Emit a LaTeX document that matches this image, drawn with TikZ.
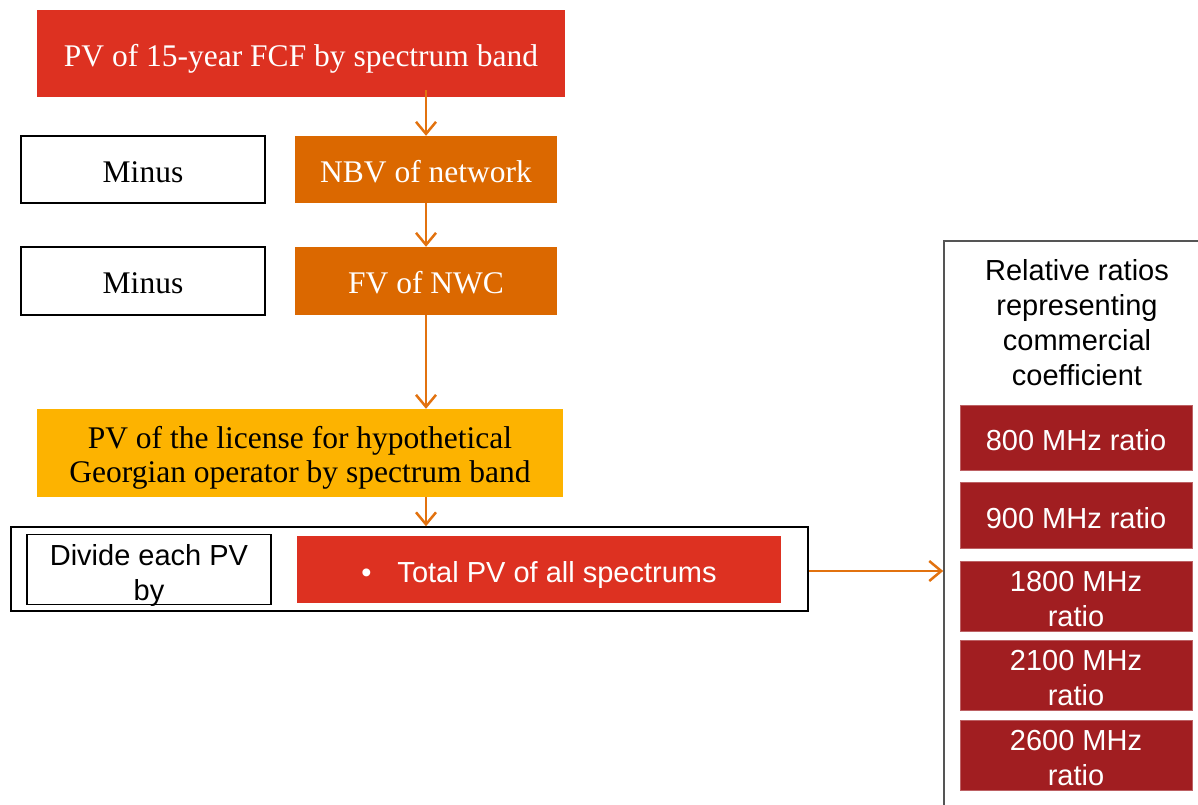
\documentclass[tikz,border=0pt]{standalone}
\usepackage{fontspec}
\setmainfont{Liberation Serif}
\setsansfont{Liberation Sans}
\usetikzlibrary{arrows.meta}
\definecolor{fcfred}{HTML}{DD3121}
\definecolor{netorange}{HTML}{DB6800}
\definecolor{licyellow}{HTML}{FDB300}
\definecolor{ratiored}{HTML}{A11E21}
\definecolor{flowc}{HTML}{E2720F}
\definecolor{frameg}{HTML}{555555}
% set the lines a little low in their box, keeping the box centred
\newcommand\lowtext[1]{\raisebox{-6pt}[\height][\depth]{\begin{tabular}{@{}c@{}}#1\end{tabular}}}
\begin{document}
\begin{tikzpicture}[x=1pt,y=-1pt,
  box/.style={rectangle, inner sep=0pt, align=center},
  serifbox/.style={box, font=\fontsize{31.5}{34}\selectfont},
  sansbox/.style={box, font=\sffamily\fontsize{29}{35}\selectfont},
  outline/.style={draw=black, line width=1.2pt},
  ratiobox/.style={sansbox, fill=ratiored, draw=ratiored!70!white, line width=0.8pt, text=white,
                   minimum width=232pt, minimum height=66pt},
  flow/.style={draw=flowc, line width=2.5pt,
               -{Straight Barb[length=12pt,width=20pt,line width=2.5pt]}}]
\useasboundingbox (0,0) rectangle (1198,804);

% main flow column
\node[serifbox, fill=fcfred, text=white, minimum width=528pt, minimum height=87pt]
  (fcf) at (301,53.5) {\lowtext{PV of 15-year FCF by spectrum band}};

\node[serifbox, outline, minimum width=244pt, minimum height=67pt]
  (minus1) at (143,169.5) {\lowtext{Minus}};
\node[serifbox, fill=netorange, text=white, minimum width=262pt, minimum height=67pt]
  (nbv) at (426,169.5) {\lowtext{NBV of network}};

\node[serifbox, outline, minimum width=244pt, minimum height=68pt]
  (minus2) at (143,281) {\lowtext{Minus}};
\node[serifbox, fill=netorange, text=white, minimum width=262pt, minimum height=68pt]
  (nwc) at (426,281) {\lowtext{FV of NWC}};

\node[serifbox, fill=licyellow, text=black, minimum width=526pt, minimum height=88pt]
  (lic) at (300,453) {\lowtext{PV of the license for hypothetical\\Georgian operator by spectrum band}};

% division step
\node[box, draw=black, line width=1.5pt, minimum width=797pt, minimum height=84pt]
  (divstep) at (409.5,569) {};
\node[sansbox, outline, minimum width=244pt, minimum height=69pt]
  (divide) at (149,569.5) {\lowtext{Divide each PV\\by}};
\node[sansbox, fill=fcfred, text=white, minimum width=484pt, minimum height=67pt]
  (total) at (539,569.5) {\lowtext{\textbullet\hspace{26pt}Total PV of all spectrums}};

% ratios panel
\node[box, draw=frameg, line width=1.6pt, minimum width=271pt, minimum height=579pt]
  (ratios) at (1079.5,530.5) {};
\node[sansbox, text=black] (rhead) at (1077,322.5)
  {Relative ratios\\representing\\commercial\\coefficient};
\node[ratiobox, minimum height=65pt] (r800) at (1076,437.5) {\lowtext{800 MHz ratio}};
\node[ratiobox] (r900) at (1076,515) {\lowtext{900 MHz ratio}};
\node[ratiobox] (r1800) at (1076,596) {\lowtext{1800 MHz\\ratio}};
\node[ratiobox] (r2100) at (1076,675) {\lowtext{2100 MHz\\ratio}};
\node[ratiobox] (r2600) at (1076,755) {\lowtext{2600 MHz\\ratio}};

% connectors
\draw[flow] ([yshift=7pt]fcf.south -| nbv.north) -- (nbv.north);
\draw[flow] (nbv.south) -- (nwc.north);
\draw[flow] (nwc.south) -- (nwc.south |- lic.north);
\draw[flow] (nwc.south |- lic.south) -- (nwc.south |- divstep.north);
\draw[flow] ([yshift=-2pt]divstep.east) -- ([yshift=-2pt]divstep.east -| ratios.west);
\end{tikzpicture}
\end{document}
